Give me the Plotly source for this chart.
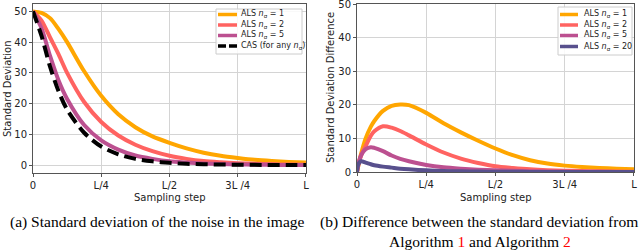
import plotly.graph_objects as go

# ---------------- data ----------------
tick_vals = [0, 0.25, 0.5, 0.75, 1.0]
tick_text = ["0", "L/4", "L/2", "3L /4", "L"]
y_ticks = [0, 10, 20, 30, 40, 50]

# (a) standard deviation of the noise
x_a = [0, 0.03125, 0.0625, 0.09375, 0.125, 0.1875, 0.25, 0.3125, 0.375, 0.4375,
       0.5, 0.5625, 0.625, 0.6875, 0.75, 0.8125, 0.875, 0.9375, 1.0]
als1_a = [50, 49.5, 47.8, 44.2, 40, 30.5, 22.5, 16.5, 12.3, 9.3, 7.2, 5.4, 4.0, 3.0, 2.3, 1.7, 1.3, 1.0, 0.8]
als2_a = [50, 47, 41.5, 36, 30, 20.5, 14, 9.6, 6.6, 4.5, 3.0, 2.0, 1.3, 0.9, 0.6, 0.4, 0.25, 0.15, 0.1]
als5_a = [50, 44.5, 35.5, 27.5, 21.5, 13, 8, 5, 3.1, 2.0, 1.2, 0.8, 0.5, 0.3, 0.2, 0.1, 0.05, 0.02, 0]
cas_a = [50, 42, 32, 24, 18, 10.5, 6, 3.5, 2.0, 1.2, 0.7, 0.4, 0.25, 0.15, 0.1, 0.05, 0.02, 0.01, 0]

# (b) difference between the standard deviations
x_b = [0, 0.005, 0.015, 0.03125, 0.05, 0.0625, 0.09375, 0.125, 0.15625, 0.1875, 0.25,
       0.3125, 0.375, 0.4375, 0.5, 0.5625, 0.625, 0.6875, 0.75, 0.8125, 0.875, 0.9375, 1.0]
als1_b = [0, 2, 5.5, 10, 13.5, 15.2, 18.2, 19.7, 20.1, 19.9, 17.6, 14.5, 11.8, 9.3, 7.0,
          5.0, 3.5, 2.5, 1.9, 1.5, 1.2, 1.0, 0.85]
als2_b = [0, 2, 5, 7.7, 10.8, 12.1, 13.6, 13.2, 12.2, 10.9, 8.2, 5.8, 4.0, 2.7, 1.7,
          1.2, 0.8, 0.55, 0.4, 0.3, 0.2, 0.12, 0.08]
als5_b = [0, 2.5, 5, 6.8, 7.4, 7.2, 6.2, 4.9, 3.9, 3.2, 2.1, 1.4, 1.0, 0.7, 0.5,
          0.35, 0.25, 0.18, 0.12, 0.08, 0.05, 0.03, 0.02]
als20_b = [0, 2.3, 3.2, 2.8, 2.3, 2.0, 1.6, 1.3, 1.0, 0.8, 0.5, 0.3, 0.2, 0.12, 0.08,
           0.05, 0.03, 0.02, 0.01, 0, 0, 0, 0]

# ---------------- style ----------------
C_ORANGE = "#ffa600"
C_RED = "#ff6361"
C_PURPLE = "#bc5090"
C_NAVY = "#58508d"
FONT = "DejaVu Sans"
SERIF = "Liberation Serif"
TXT = "#222222"
W = 640
H = 251
LW = 4
CAS_DASH = "12px,6px"
CAP_SIZE = 15.5


def lab(n):
    return "ALS <i>n</i><sub>σ</sub> = %s" % n


def px(x):
    return x / W


def py(y):
    return 1 - y / H


series_a = [(als1_a, C_ORANGE, lab(1), "solid"), (als2_a, C_RED, lab(2), "solid"),
            (als5_a, C_PURPLE, lab(5), "solid"),
            (cas_a, "black", "CAS (for any <i>n</i><sub>σ</sub>)", CAS_DASH)]
series_b = [(als1_b, C_ORANGE, lab(1), "solid"), (als2_b, C_RED, lab(2), "solid"),
            (als5_b, C_PURPLE, lab(5), "solid"), (als20_b, C_NAVY, lab(20), "solid")]

fig = go.Figure()
for y, c, name, d in series_a:
    fig.add_trace(go.Scatter(x=x_a, y=y, mode="lines", name=name, showlegend=False,
                             line=dict(color=c, width=LW, dash=d, shape="spline", smoothing=0.8),
                             xaxis="x", yaxis="y"))
for y, c, name, d in series_b:
    fig.add_trace(go.Scatter(x=x_b, y=y, mode="lines", name=name, showlegend=False,
                             line=dict(color=c, width=LW, dash=d, shape="spline", smoothing=0.8),
                             xaxis="x2", yaxis="y2"))

axis_common = dict(showgrid=True, gridcolor="#d4d4d4", gridwidth=1,
                   showline=True, linecolor="#555555", linewidth=1, mirror=True,
                   ticks="outside", ticklen=3, tickcolor="#555555",
                   tickfont=dict(family=FONT, size=10, color=TXT),
                   ticklabeloverflow="allow",
                   zeroline=False, automargin=False)

fig.update_layout(
    width=W, height=H,
    margin=dict(l=0, r=0, t=0, b=0),
    paper_bgcolor="white", plot_bgcolor="white",
    font=dict(family=FONT, size=10, color=TXT),
    showlegend=False,
    xaxis=dict(domain=[px(33), px(306)], range=[0, 1.0001], tickvals=tick_vals, ticktext=tick_text,
               anchor="y", **axis_common),
    yaxis=dict(domain=[py(173), py(4)], range=[-2.6, 52.4], tickvals=y_ticks,
               anchor="x", **axis_common),
    xaxis2=dict(domain=[px(357), px(634)], range=[0, 1.0001], tickvals=tick_vals, ticktext=tick_text,
                anchor="y2", **axis_common),
    yaxis2=dict(domain=[py(172), py(4)], range=[0, 50.02], tickvals=y_ticks,
                anchor="x2", **axis_common),
)

shapes = []
ann = []


def legend_box(x0, y0, x1, y1, sx0, sx1, tx, rows, entries):
    shapes.append(dict(type="rect", xref="paper", yref="paper", x0=px(x0), x1=px(x1),
                       y0=py(y1), y1=py(y0), line=dict(color="#cccccc", width=1),
                       fillcolor="rgba(255,255,255,0.85)", layer="above"))
    for (yv, c, name, d), ry in zip(entries, rows):
        shapes.append(dict(type="line", xref="paper", yref="paper", x0=px(sx0), x1=px(sx1),
                           y0=py(ry), y1=py(ry), layer="above",
                           line=dict(color=c, width=3.5, dash="8px,3px" if d != "solid" else "solid")))
        ann.append(dict(text=name, x=px(tx), y=py(ry), xref="paper", yref="paper",
                        xanchor="left", yanchor="middle", showarrow=False,
                        font=dict(family=FONT, size=8, color=TXT)))


legend_box(216, 9, 302, 54, 218, 237, 239, [14.5, 25, 35.5, 46], series_a)
legend_box(558, 7, 632, 55, 560, 578, 582, [14.5, 25, 35.5, 46.5], series_b)

# axis titles
for cx in [(33 + 306) / 2, (357 + 634) / 2]:
    ann.append(dict(text="Sampling step", x=px(cx), y=py(197), xref="paper", yref="paper",
                    xanchor="center", yanchor="middle", showarrow=False,
                    font=dict(family=FONT, size=10, color=TXT)))
ann.append(dict(text="Standard Deviation", x=px(7), y=py(89), xref="paper", yref="paper",
                xanchor="center", yanchor="middle", showarrow=False, textangle=-90,
                font=dict(family=FONT, size=10, color=TXT)))
ann.append(dict(text="Standard Deviation Difference", x=px(330), y=py(88), xref="paper", yref="paper",
                xanchor="center", yanchor="middle", showarrow=False, textangle=-90,
                font=dict(family=FONT, size=10, color=TXT)))
# captions
ann.append(dict(text="(a) Standard deviation of the noise in the image", x=px(157), y=py(222),
                xref="paper", yref="paper", xanchor="center", yanchor="middle", showarrow=False,
                font=dict(family=SERIF, size=CAP_SIZE, color="black")))
ann.append(dict(text="(b) Difference between the standard deviation from", x=px(479), y=py(222),
                xref="paper", yref="paper", xanchor="center", yanchor="middle", showarrow=False,
                font=dict(family=SERIF, size=CAP_SIZE, color="black")))
ann.append(dict(text="Algorithm <span style='color:red'>1</span> and Algorithm <span style='color:red'>2</span>",
                x=px(480), y=py(241), xref="paper", yref="paper", xanchor="center", yanchor="middle",
                showarrow=False, font=dict(family=SERIF, size=CAP_SIZE, color="black")))

fig.update_layout(shapes=shapes, annotations=ann)
fig.write_html("out.html", config={"displayModeBar": False, "staticPlot": True},
               post_script="document.body.style.margin='0px';document.body.style.overflow='hidden';")
